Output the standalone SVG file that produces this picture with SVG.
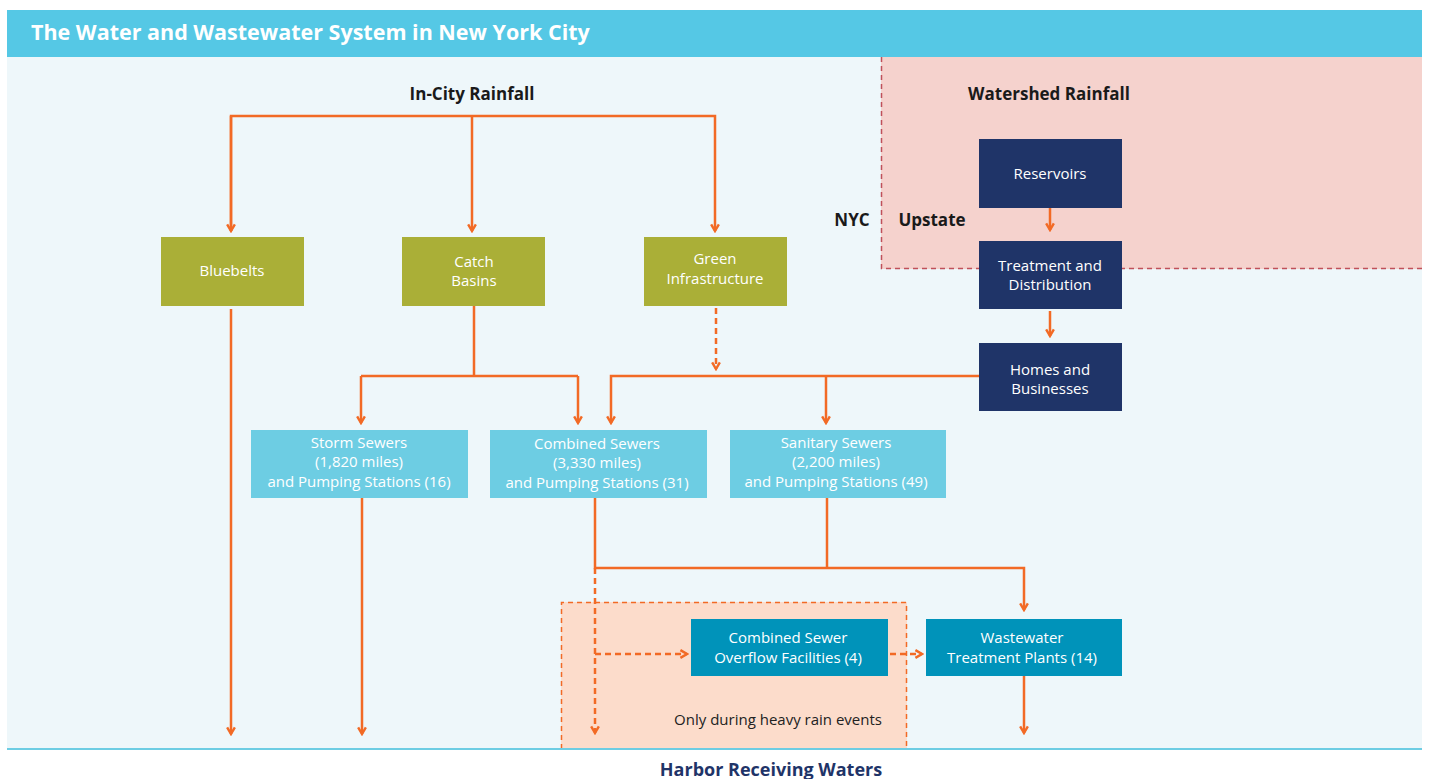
<svg xmlns="http://www.w3.org/2000/svg" width="1429" height="779" viewBox="0 0 1429 779">
<defs>
<style>
.t{font-family:"Open Sans","Liberation Sans",sans-serif}
.bx{fill:#fff;font-size:15px;text-anchor:middle}
.lbl{fill:#1a1a1a;font-size:17px;font-weight:700;text-anchor:middle}
.ln{stroke:#F26A25;stroke-width:2.5;fill:none}
.ds{stroke-dasharray:6,4}
.ol{fill:#AAAF37}.nv{fill:#1F3468}.sk{fill:#6DCDE3}.tl{fill:#0093BA}
</style>
<marker id="ah" viewBox="0 0 10 10" refX="8" refY="5" markerWidth="11" markerHeight="11" markerUnits="userSpaceOnUse" orient="auto">
<path d="M2,1.5 L8,5 L2,8.5" fill="none" stroke="#F26A25" stroke-width="2.2"/>
</marker>
</defs>
<rect x="0" y="0" width="1429" height="779" fill="#fff"/>
<rect x="7" y="57" width="1415" height="692" fill="#EEF7FA"/>
<rect x="7" y="10" width="1415" height="47" fill="#55C8E5"/>
<text class="t" x="31" y="40" font-size="21.5" font-weight="700" fill="#fff">The Water and Wastewater System in New York City</text>
<g id="upstate-region">
<rect x="881" y="57" width="541" height="212" fill="#F5D2CD"/>
<path d="M881.5,57 V268.5 H1422" fill="none" stroke="#C0505A" stroke-width="1.5" stroke-dasharray="5,4"/>
</g>
<g id="rain-region">
<rect x="561" y="602" width="346" height="147" fill="#FCDCCB"/>
<path d="M561.5,749 V602.5 H906.5 V749" fill="none" stroke="#F26A25" stroke-width="1.5" stroke-dasharray="5,4"/>
<text class="t" x="778" y="725" font-size="15" fill="#222" text-anchor="middle">Only during heavy rain events</text>
</g>
<line x1="7" y1="749" x2="1422" y2="749" stroke="#6DCDE3" stroke-width="2"/>
<text class="t lbl" x="472" y="100">In-City Rainfall</text>
<text class="t lbl" x="1049" y="100">Watershed Rainfall</text>
<text class="t lbl" x="852" y="226">NYC</text>
<text class="t lbl" x="932" y="226">Upstate</text>
<text class="t" x="771" y="776" font-size="18" font-weight="700" fill="#1F3468" text-anchor="middle">Harbor Receiving Waters</text>
<g id="connectors">
<path class="ln" d="M231,231 V116 H715 V231" marker-end="url(#ah)"/>
<path class="ln" d="M231,116 V231" marker-end="url(#ah)"/>
<path class="ln" d="M472,116 V231" marker-end="url(#ah)"/>
<path class="ln" d="M231,309 V734" marker-end="url(#ah)"/>
<path class="ln" d="M474,306 V376 M361,376 H578"/>
<path class="ln" d="M361,376 V423" marker-end="url(#ah)"/>
<path class="ln" d="M578,376 V423" marker-end="url(#ah)"/>
<path class="ln ds" d="M716,308 V369" marker-end="url(#ah)"/>
<path class="ln" d="M979,376 H611 V423" marker-end="url(#ah)"/>
<path class="ln" d="M826,376 V423" marker-end="url(#ah)"/>
<path class="ln" d="M1050,200 V230" marker-end="url(#ah)"/>
<path class="ln" d="M1050,311 V336" marker-end="url(#ah)"/>
<path class="ln" d="M362,498 V734" marker-end="url(#ah)"/>
<path class="ln" d="M595,498 V568 H1024 V610" marker-end="url(#ah)"/>
<path class="ln" d="M827,498 V568"/>
<path class="ln ds" d="M595,568 V733" marker-end="url(#ah)"/>
<path class="ln ds" d="M595,654 H687" marker-end="url(#ah)"/>
<path class="ln ds" d="M890,654 H922" marker-end="url(#ah)"/>
<path class="ln" d="M1024,676 V733" marker-end="url(#ah)"/>
</g>
<g id="bluebelts"><rect class="ol" x="161" y="237" width="143" height="69"/><text class="t bx" x="232" y="276">Bluebelts</text></g>
<g id="catch-basins"><rect class="ol" x="402" y="237" width="143" height="69"/><text class="t bx" x="474" y="267">Catch</text><text class="t bx" x="474" y="286">Basins</text></g>
<g id="green-infrastructure"><rect class="ol" x="644" y="237" width="143" height="69"/><text class="t bx" x="715" y="264">Green</text><text class="t bx" x="715" y="284">Infrastructure</text></g>
<g id="reservoirs"><rect class="nv" x="979" y="139" width="143" height="69"/><text class="t bx" x="1050" y="179">Reservoirs</text></g>
<g id="treatment-distribution"><rect class="nv" x="979" y="241" width="143" height="68"/><text class="t bx" x="1050" y="271">Treatment  and</text><text class="t bx" x="1050" y="290">Distribution</text></g>
<g id="homes-businesses"><rect class="nv" x="979" y="343" width="143" height="68"/><text class="t bx" x="1050" y="375">Homes and</text><text class="t bx" x="1050" y="394">Businesses</text></g>
<g id="storm-sewers"><rect class="sk" x="251" y="430" width="217" height="68"/><text class="t bx" x="359" y="448">Storm Sewers</text><text class="t bx" x="359" y="467">(1,820 miles)</text><text class="t bx" x="359" y="487">and Pumping Stations (16)</text></g>
<g id="combined-sewers"><rect class="sk" x="490" y="430" width="217" height="68"/><text class="t bx" x="597" y="449">Combined Sewers</text><text class="t bx" x="597" y="468">(3,330 miles)</text><text class="t bx" x="597" y="488">and Pumping Stations (31)</text></g>
<g id="sanitary-sewers"><rect class="sk" x="730" y="430" width="216" height="68"/><text class="t bx" x="836" y="448">Sanitary Sewers</text><text class="t bx" x="836" y="467">(2,200 miles)</text><text class="t bx" x="836" y="487">and Pumping Stations (49)</text></g>
<g id="cso-facilities"><rect class="tl" x="691" y="619" width="197" height="57"/><text class="t bx" x="788" y="643">Combined Sewer</text><text class="t bx" x="788" y="663">Overflow Facilities (4)</text></g>
<g id="wwtp"><rect class="tl" x="926" y="619" width="196" height="57"/><text class="t bx" x="1022" y="643">Wastewater</text><text class="t bx" x="1022" y="663">Treatment Plants (14)</text></g>
</svg>
